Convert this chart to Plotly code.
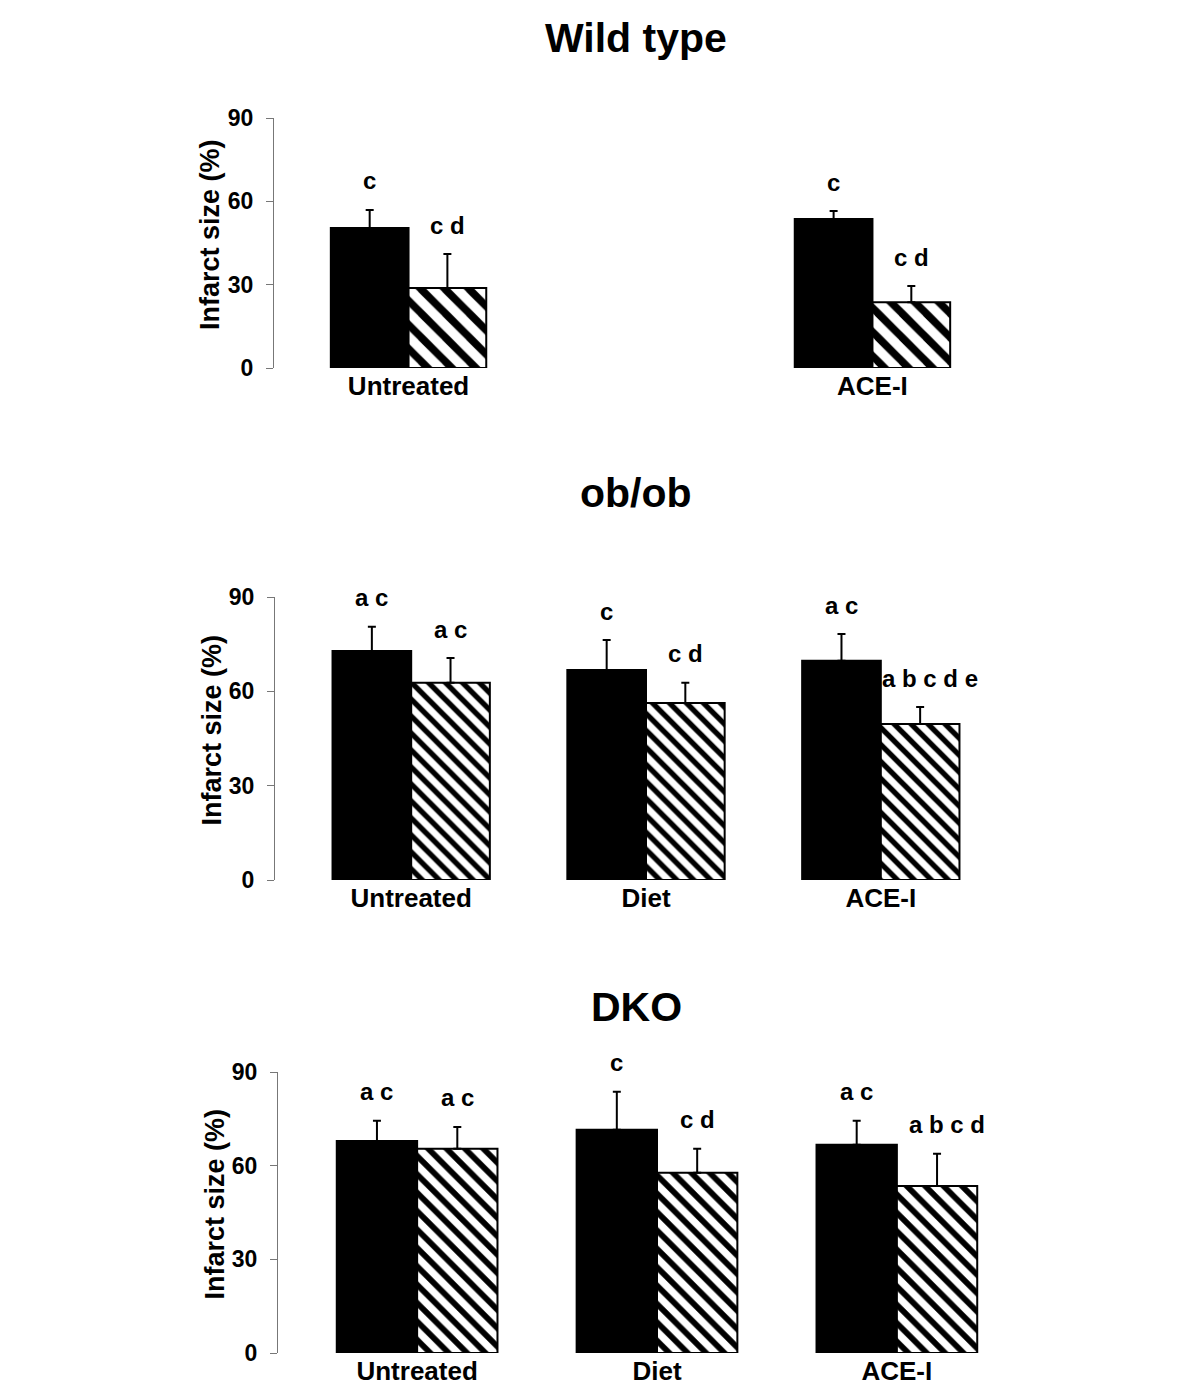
import plotly.graph_objects as go

# data (infarct size, %)
groups = ["Untreated", "Diet", "ACE-I"]
panel_titles = ["Wild type", "ob/ob", "DKO"]

wt_black = [50.4, None, 53.6]
wt_black_err = [6.5, None, 2.9]
wt_hatch = [28.8, None, 23.7]
wt_hatch_err = [12.2, None, 5.8]
wt_black_lbl = ["c", "", "c"]
wt_hatch_lbl = ["c d", "", "c d"]

ob_black = [72.8, 66.8, 69.7]
ob_black_err = [7.7, 9.5, 8.5]
ob_hatch = [62.7, 56.3, 49.6]
ob_hatch_err = [7.9, 6.4, 5.4]
ob_black_lbl = ["a c", "c", "a c"]
ob_hatch_lbl = ["a c", "c d", "a b c d e"]

dko_black = [67.9, 71.5, 66.7]
dko_black_err = [6.5, 12.2, 7.7]
dko_hatch = [65.4, 57.7, 53.5]
dko_hatch_err = [7.0, 7.7, 10.3]
dko_black_lbl = ["a c", "c", "a c"]
dko_hatch_lbl = ["a c", "c d", "a b c d"]

y_ticks = [0, 30, 60, 90]

W, H = 1200, 1390
PAGE_PAD = 8  # default body margin of the html page
FONT = "Liberation Sans"
BARGAP = 0.33

panels = [
    (wt_black, wt_black_err, wt_hatch, wt_hatch_err, wt_black_lbl, wt_hatch_lbl),
    (ob_black, ob_black_err, ob_hatch, ob_hatch_err, ob_black_lbl, ob_hatch_lbl),
    (dko_black, dko_black_err, dko_hatch, dko_hatch_err, dko_black_lbl, dko_hatch_lbl),
]
# pixel layout of each panel: x left, x right, y of 0, y of 90, title y, hatch size
boxes = [
    (274, 1007, 368, 118, 38, 17),
    (275, 1017, 880, 597, 493, 12),
    (278, 1036, 1353, 1072, 1007, 13),
]


def fx(p):
    return (p - PAGE_PAD) / W


def fy(p):
    return 1 - (p - PAGE_PAD) / H


fig = go.Figure()
annotations = []
half = (1 - BARGAP) / 4

for k, (data, box) in enumerate(zip(panels, boxes)):
    black, black_err, hatch, hatch_err, black_lbl, hatch_lbl = data
    x0, x1, y0, y1, ty, psize = box
    sfx = "" if k == 0 else str(k + 1)
    xa, ya = "x" + sfx, "y" + sfx

    fig.add_trace(go.Bar(
        x=groups, y=black, xaxis=xa, yaxis=ya,
        marker=dict(color="black", line=dict(color="black", width=2)),
        error_y=dict(type="data", symmetric=False, array=black_err,
                     arrayminus=[0] * 3, color="black", thickness=2, width=4),
        showlegend=False,
    ))
    fig.add_trace(go.Bar(
        x=groups, y=hatch, xaxis=xa, yaxis=ya,
        marker=dict(color="white", line=dict(color="black", width=2),
                    pattern=dict(shape="\\", fgcolor="black", bgcolor="white",
                                 fgopacity=1, fillmode="replace",
                                 size=psize, solidity=0.45)),
        error_y=dict(type="data", symmetric=False, array=hatch_err,
                     arrayminus=[0] * 3, color="black", thickness=2, width=4),
        showlegend=False,
    ))

    axis_x = dict(domain=[fx(x0), fx(x1)], range=[-0.58, 2.58], anchor=ya,
                  type="category", categoryorder="array", categoryarray=groups,
                  tickvals=[g for g, v in zip(groups, black) if v is not None],
                  showline=False, showgrid=False, zeroline=False, ticks="",
                  automargin=False,
                  tickfont=dict(family=FONT, size=26, color="black", weight="bold"))
    axis_y = dict(domain=[fy(y0), fy(y1)], range=[0, 90], anchor=xa,
                  tickvals=y_ticks, ticks="outside", ticklen=7, tickcolor="#777",
                  showline=True, linecolor="#777", linewidth=1,
                  showgrid=False, zeroline=False, ticklabelstandoff=8,
                  automargin=False,
                  tickfont=dict(family=FONT, size=23, color="black", weight="bold"))
    fig.update_layout({"xaxis" + sfx: axis_x, "yaxis" + sfx: axis_y})

    annotations.append(dict(
        text=panel_titles[k], xref="paper", yref="paper", x=fx(636), y=fy(ty),
        xanchor="center", yanchor="middle", showarrow=False,
        font=dict(family=FONT, size=41, color="black", weight="bold")))
    annotations.append(dict(
        text="Infarct size (%)", xref="paper", yref="paper",
        x=fx(x0 - 64), y=fy((y0 + y1) / 2 - 8), textangle=-90,
        xanchor="center", yanchor="middle", showarrow=False,
        font=dict(family=FONT, size=27, color="black", weight="bold")))

    for i in range(len(groups)):
        for vals, errs, lbls, off in ((black, black_err, black_lbl, -half),
                                      (hatch, hatch_err, hatch_lbl, half)):
            if vals[i] is None:
                continue
            # the widest letter strings sit a little to the right of their bar
            shift = 10 if len(lbls[i]) > 5 else 0
            annotations.append(dict(
                text=lbls[i], xref=xa, yref=ya, x=i + off, y=vals[i] + errs[i],
                yshift=29, xshift=shift, xanchor="center", yanchor="middle",
                showarrow=False,
                font=dict(family=FONT, size=24, color="black", weight="bold")))

fig.update_layout(
    width=W, height=H,
    margin=dict(l=0, r=0, t=0, b=0, autoexpand=False),
    barmode="group", bargap=BARGAP, bargroupgap=0,
    plot_bgcolor="white", paper_bgcolor="white",
    annotations=annotations,
)

fig.write_html("out.html")
